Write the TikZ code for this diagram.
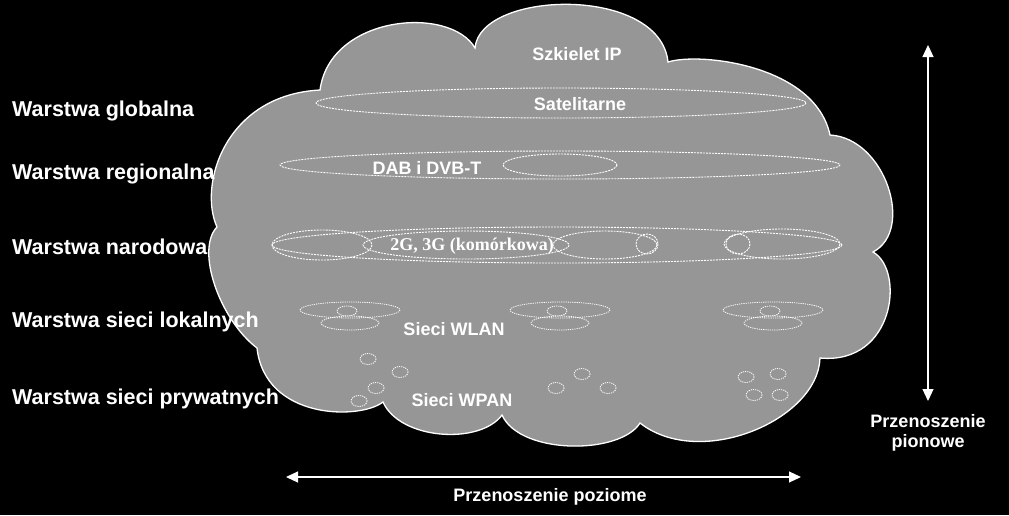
\documentclass[tikz,border=0pt]{standalone}
\usepackage{fontspec}
\setmainfont{Liberation Sans}
\newfontfamily\serifbf{Liberation Serif}
\usetikzlibrary{arrows.meta}
\definecolor{cloudgray}{RGB}{150,150,150}
\begin{document}
\begin{tikzpicture}[x=1pt,y=-1pt,
  lbl/.style={text=white,font=\fontsize{21.5}{25}\selectfont\bfseries,anchor=base west,inner sep=0pt},
  inlbl/.style={text=white,font=\fontsize{18}{21}\selectfont\bfseries,anchor=base,inner sep=0pt},
  arrlbl/.style={text=white,font=\fontsize{18}{21}\selectfont\bfseries,inner sep=0pt},
  cloudst/.style={draw=white,line width=1.3pt,fill=cloudgray},
  band/.style={draw=white,line width=0.9pt,dash pattern=on 2pt off 1pt},
  dev/.style={draw=white,line width=0.8pt,dash pattern=on 1.2pt off 1pt},
  dblarrow/.style={draw=white,line width=1.1pt,{Triangle[length=12pt,width=11pt]}-{Triangle[length=12pt,width=11pt]}}
]
\useasboundingbox (0,0) rectangle (1009,515);
\fill[black] (0,0) rectangle (1009,515);

% cloud
\draw[cloudst] (217,227) .. controls (198,185) and (225,95) .. (320,90)
  .. controls (330,15) and (450,5) .. (475,48)
  .. controls (480,-10) and (660,-15) .. (668,62)
  .. controls (700,52) and (815,65) .. (830,135)
  .. controls (885,138) and (915,230) .. (873,252)
  .. controls (905,270) and (895,365) .. (820,358)
  .. controls (818,420) and (700,470) .. (640,423)
  .. controls (620,455) and (520,455) .. (502,415)
  .. controls (480,445) and (400,440) .. (383,402)
  .. controls (360,420) and (265,420) .. (257,348)
  .. controls (220,320) and (195,250) .. (217,227) -- cycle;

% satellite band
\draw[band] (561,103) ellipse [x radius=245, y radius=15];
% DAB band
\draw[band] (560,165) ellipse [x radius=280, y radius=14];
\draw[band] (560,165) ellipse [x radius=57, y radius=11];
% cellular band
\draw[band] (557,245) ellipse [x radius=285, y radius=18];
\draw[band] (322,245) ellipse [x radius=50, y radius=15];
\draw[band] (466,245) ellipse [x radius=103, y radius=14];
\draw[band] (605,245) ellipse [x radius=52, y radius=14];
\draw[band] (647,244) ellipse [x radius=11, y radius=10];
\draw[band] (782,244) ellipse [x radius=58, y radius=15];
\draw[band] (738,244) ellipse [x radius=12, y radius=10];
% WLAN groups
\foreach \cx in {350,560,773}{
  \draw[dev] (\cx,310) ellipse [x radius=50, y radius=8];
  \draw[dev] (\cx,323) ellipse [x radius=29, y radius=7];
  \draw[dev] (\cx-3,311) ellipse [x radius=10, y radius=5];
}
% WPAN devices
\foreach \px/\py in {368/359,400/372,376/388,359/401,582/374,556/388,608/388,746/377,778/374,754/395,780/395}{
  \draw[dev] (\px,\py) ellipse [x radius=8, y radius=5.5];
}

% inner labels
\node[inlbl] (szk) at (577,60) {Szkielet IP};
\node[inlbl] (sat) at (580,110) {Satelitarne};
\node[inlbl] (dab) at (427,174) {DAB i DVB-T};
\node[inlbl,font=\fontsize{18}{21}\selectfont\serifbf\bfseries] (kom) at (472,250) {2G, 3G (komórkowa)};
\node[inlbl] (wlan) at (454,335) {Sieci WLAN};
\node[inlbl] (wpan) at (462,406) {Sieci WPAN};

% layer labels
\node[lbl] (glob) at (12,116) {Warstwa globalna};
\node[lbl] (reg) at (12,179) {Warstwa regionalna};
\node[lbl] (nar) at (12,254) {Warstwa narodowa};
\node[lbl] (lok) at (12,327) {Warstwa sieci lokalnych};
\node[lbl] (pry) at (12,404) {Warstwa sieci prywatnych};

% arrows
\coordinate (vtop) at (928,45);
\coordinate (vbot) at (928,401);
\draw[dblarrow] (vtop) -- (vbot);
\coordinate (hleft) at (286,477);
\coordinate (hright) at (801,477);
\draw[dblarrow] (hleft) -- (hright);

\node[arrlbl,align=center,anchor=north] (pion) at (928,414) {Przenoszenie\\[-1pt]pionowe};
\node[arrlbl,anchor=base] (poz) at (550,501) {Przenoszenie poziome};
\end{tikzpicture}
\end{document}
